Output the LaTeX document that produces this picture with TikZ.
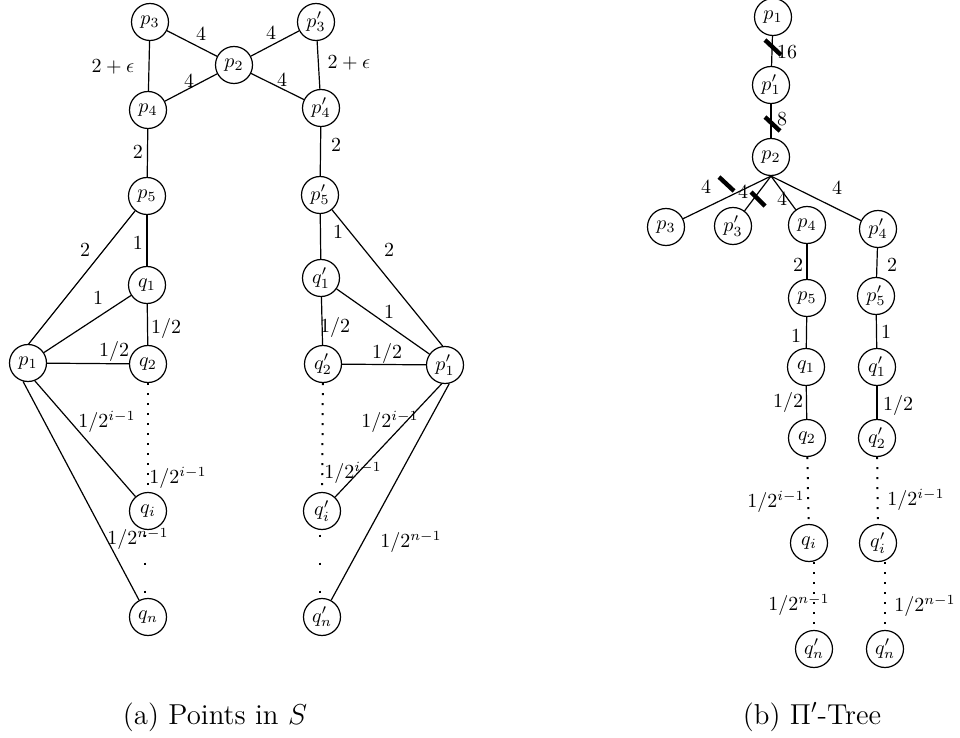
\documentclass[tikz,border=0pt]{standalone}
\usetikzlibrary{calc}
\begin{document}
\begin{tikzpicture}[x=0.5pt,y=-0.5pt,
  vtx/.style={circle,draw,line width=0.6pt,minimum size=18.5pt,inner sep=0pt},
  edge/.style={line width=0.6pt},
  lbl/.style={inner sep=0pt},
  dotline/.style={line width=1pt,dash pattern=on 1pt off 4pt},
  sparsedots/.style={line width=1pt,dash pattern=on 1pt off 13pt,dash phase=11.75pt},
  bar/.style={line width=2.2pt},
  captext/.style={font=\fontsize{14.4}{17}\selectfont,inner sep=0pt,anchor=base}]
\useasboundingbox (0,0) rectangle (960,738);

% ---------- (a) Points in S ----------
\node[vtx] (p3) at (150,22) {$p_3$};
\node[vtx] (p2) at (234,65) {$p_2$};
\node[vtx] (p3b) at (316,22) {$p'_3$};
\node[vtx] (p4) at (148,110) {$p_4$};
\node[vtx] (p4b) at (321,108) {$p'_4$};
\node[vtx] (p5) at (147,196) {$p_5$};
\node[vtx] (p5b) at (320,195) {$p'_5$};
\node[vtx] (q1) at (147,285) {$q_1$};
\node[vtx] (q1b) at (321,278) {$q'_1$};
\node[vtx] (p1) at (28,363) {$p_1$};
\node[vtx] (q2) at (148,364) {$q_2$};
\node[vtx] (q2b) at (323,364) {$q'_2$};
\node[vtx] (p1b) at (445,365) {$p'_1$};
\node[vtx] (qi) at (148,511) {$q_i$};
\node[vtx] (qib) at (322,511) {$q'_i$};
\node[vtx] (qn) at (148,617) {$q_n$};
\node[vtx] (qnb) at (322,617) {$q'_n$};

\draw[edge] (p3) -- (p2) node[lbl] at (201,34) {$4$};
\draw[edge] (p2) -- (p3b) node[lbl] at (271,33) {$4$};
\draw[edge] (p4) -- (p2) node[lbl] at (189,81) {$4$};
\draw[edge] (p2) -- (p4b) node[lbl] at (282,80) {$4$};
\draw[edge] (p3) -- (p4) node[lbl] at (113,67) {$2+\epsilon$};
\draw[edge] (p3b) -- (p4b) node[lbl] at (349,63) {$2+\epsilon$};
\draw[edge] (p4) -- (p5) node[lbl] at (138,152) {$2$};
\draw[edge] (p4b) -- (p5b) node[lbl] at (336,145) {$2$};
\draw[edge] (p5) -- (q1) node[lbl] at (138,243) {$1$};
\draw[edge] (p1.88) -- (p5) node[lbl] at (85,250) {$2$};
\draw[edge] (p1) -- (q1) node[lbl] at (98,298) {$1$};
\draw[edge] (q1) -- (q2) node[lbl] at (166,329) {$1/2$};
\draw[edge] (p1) -- (q2) node[lbl] at (114,352) {$1/2$};
\draw[dotline] (q2) -- (qi) node[lbl] at (178,478) {$1/2^{i-1}$};
\draw[edge] (p1.-69) -- (qi) node[lbl] at (107,422) {$1/2^{i-1}$};
\draw[sparsedots] ([xshift=-1.5pt]qi.south) -- ([xshift=-1.5pt]qn.north);
\draw[edge] (p1.-105) -- (qn) node[lbl] at (138,539) {$1/2^{n-1}$};

\draw[edge] (p5b) -- (q1b) node[lbl] at (338,232) {$1$};
\draw[edge] (p5b) -- (p1b.97) node[lbl] at (389,250) {$2$};
\draw[edge] (q1b) -- (p1b) node[lbl] at (389,312) {$1$};
\draw[edge] (q1b) -- (q2b) node[lbl] at (335,327) {$1/2$};
\draw[edge] (q2b) -- (p1b) node[lbl] at (387,353) {$1/2$};
\draw[dotline] (q2b) -- (qib) node[lbl] at (353,473) {$1/2^{i-1}$};
\draw[edge] (p1b.-100) -- (qib) node[lbl] at (390,422) {$1/2^{i-1}$};
\draw[sparsedots] ([xshift=-1pt]qib.south) -- ([xshift=-1pt]qnb.north);
\draw[edge] (p1b.-77) -- (qnb) node[lbl] at (411,542) {$1/2^{n-1}$};

% ---------- (b) Pi'-Tree ----------
\node[vtx] (tp1) at (773,17) {$p_1$};
\node[vtx] (tp1b) at (771,85) {$p'_1$};
\node[vtx] (tp2) at (771,157) {$p_2$};
\node[vtx] (tp3) at (666,227) {$p_3$};
\node[vtx] (tp3b) at (733,226) {$p'_3$};
\node[vtx] (tp4) at (807,225) {$p_4$};
\node[vtx] (tp4b) at (878,229) {$p'_4$};
\node[vtx] (tp5) at (807,298) {$p_5$};
\node[vtx] (tp5b) at (876,296) {$p'_5$};
\node[vtx] (tq1) at (806,367) {$q_1$};
\node[vtx] (tq1b) at (877,367) {$q'_1$};
\node[vtx] (tq2) at (807,438) {$q_2$};
\node[vtx] (tq2b) at (877,438) {$q'_2$};
\node[vtx] (tqi) at (809,543) {$q_i$};
\node[vtx] (tqib) at (878,543) {$q'_i$};
\node[vtx] (tqn) at (814,649) {$q'_n$};
\node[vtx] (tqnb) at (885,649) {$q'_n$};

\draw[edge] (tp1) -- (tp1b) node[lbl] at (787,52) {$16$};
\draw[edge] (tp1b) -- (tp2) node[lbl] at (782,119) {$8$};
\draw[edge] (tp2.south) -- (tp3) node[lbl] at (706,187) {$4$};
\draw[edge] (tp2.south) -- (tp3b) node[lbl] at (743,192) {$4$};
\draw[edge] (tp2.south) -- (tp4) node[lbl] at (782,199) {$4$};
\draw[edge] (tp2.south) -- (tp4b) node[lbl] at (837,188) {$4$};
\draw[edge] (tp4) -- (tp5) node[lbl] at (798,265) {$2$};
\draw[edge] (tp4b) -- (tp5b) node[lbl] at (892,265) {$2$};
\draw[edge] (tp5) -- (tq1) node[lbl] at (796,336) {$1$};
\draw[edge] (tp5b) -- (tq1b) node[lbl] at (886,332) {$1$};
\draw[edge] (tq1) -- (tq2) node[lbl] at (788,403) {$1/2$};
\draw[edge] (tq1b) -- (tq2b) node[lbl] at (898,405) {$1/2$};
\draw[dotline] (tq2) -- (tqi) node[lbl] at (776,502) {$1/2^{i-1}$};
\draw[dotline] (tq2b) -- (tqib) node[lbl] at (916,500) {$1/2^{i-1}$};
\draw[dotline] (tqi.south -| tqn.north) -- (tqn.north) node[lbl] at (799,605) {$1/2^{n-1}$};
\draw[dotline] (tqib.south -| tqnb.north) -- (tqnb.north) node[lbl] at (925,606) {$1/2^{n-1}$};

\draw[bar] (765,40) -- (781,55);
\draw[bar] (765,117) -- (780,131);
\draw[bar] (719,177) -- (734,191);
\draw[bar] (751,192) -- (765,206);

% ---------- captions ----------
\node[captext] (capa) at (215,724) {(a) Points in $S$};
\node[captext] (capb) at (812,724) {(b) $\Pi'$-Tree};
\end{tikzpicture}
\end{document}
